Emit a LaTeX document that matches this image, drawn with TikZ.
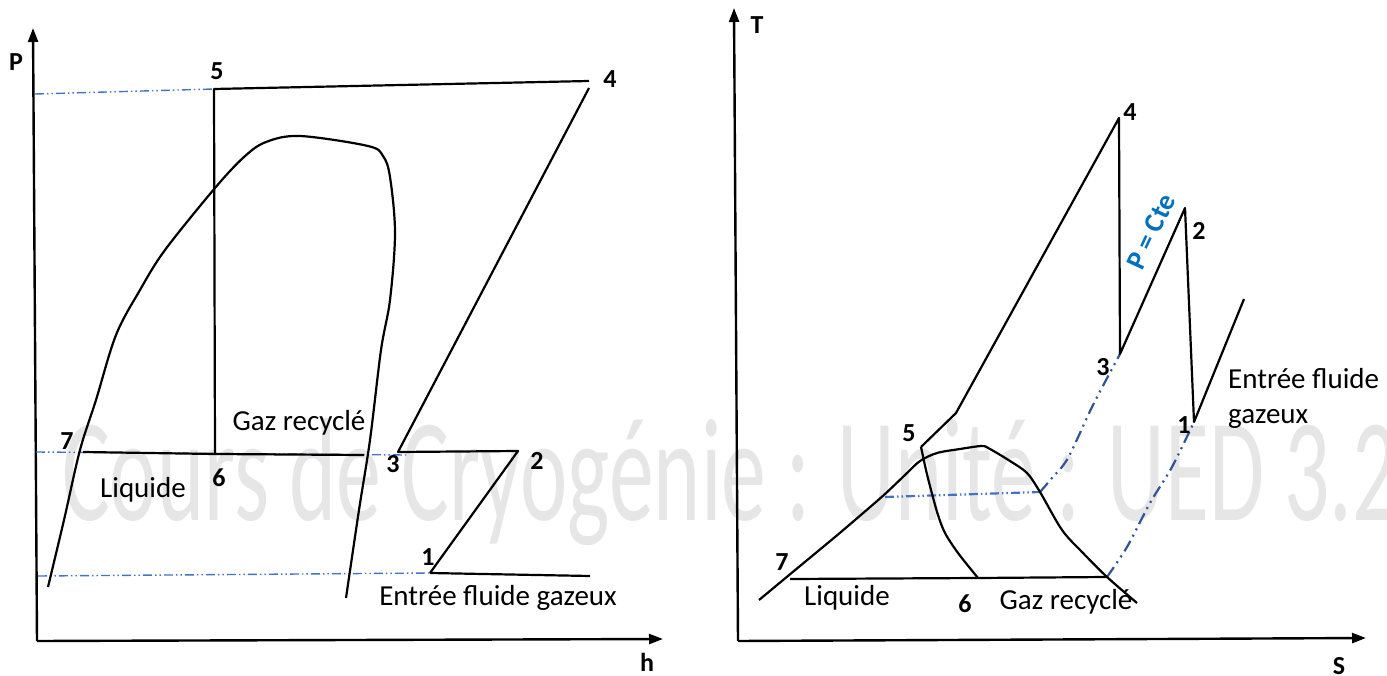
\documentclass[tikz,border=0pt]{standalone}
\usepackage{graphicx}
\usepackage{fontspec}
\setmainfont{Carlito}
\usetikzlibrary{arrows.meta}
\definecolor{isoblue}{RGB}{68,114,196}
\definecolor{curveblue}{RGB}{47,85,151}
\definecolor{cteblue}{RGB}{0,112,192}
\definecolor{wmgray}{RGB}{230,230,230}

\begin{document}
\begin{tikzpicture}[
    x=1pt, y=-1pt,
    >={Triangle[length=14pt,width=10pt]},
    font=\fontsize{29}{35}\selectfont,
    axis/.style = {->, line width=2.4pt, black},
    cyc/.style  = {line width=2.2pt, black, line join=round},
    iso/.style  = {line width=1.4pt, isoblue,
                   dash pattern=on 9pt off 3pt on 1.5pt off 3pt on 1.5pt off 3pt},
    isoc/.style = {line width=2.2pt, curveblue,
                   dash pattern=on 12pt off 5pt on 2pt off 5pt on 2pt off 5pt},
    num/.style  = {font=\fontsize{26}{30}\selectfont\bfseries, inner sep=0pt},
    txt/.style  = {inner sep=0pt, align=left},
    wm/.style   = {font=\fontsize{147}{150}\selectfont, text=wmgray, inner sep=0pt},
]
\useasboundingbox (0,0) rectangle (1387,676);

% ---------------- watermark ----------------
\node[wm, anchor=base west] (wmark) at (62,520) {\scalebox{0.61}[1]{Cours de Cryogénie : Unité : UED 3.2}};

% ---------------- P-h diagram ----------------
\coordinate (ph-o) at (37,641);
\coordinate (ph-ytip) at (33,28);
\coordinate (ph-xtip) at (663,639);
\draw[axis] (ph-o) -- (ph-ytip);
\draw[axis] (ph-o) -- (ph-xtip);
\node[num] (ph-P) at (16,62) {P};
\node[num] (ph-h) at (647,662) {h};

\coordinate (ph1) at (430,573);
\coordinate (ph2) at (518,451);
\coordinate (ph3) at (398,452);
\coordinate (ph4) at (589,81);
\coordinate (ph4b) at (589,88);
\coordinate (ph5) at (214,89);
\coordinate (ph6) at (215,454);
\coordinate (ph7) at (83,452);
\coordinate (ph-in) at (590,576);
\coordinate (ph-liq) at (364,455);
\coordinate (ph-hp) at (35,94);
\coordinate (ph-mp) at (36,452);
\coordinate (ph-mp3) at (406,455);
\coordinate (ph-lp) at (38,576);

% isobars
\draw[iso] (ph-hp) -- (ph5);
\draw[iso] (ph-mp) -- (ph-mp3);
\draw[iso] (ph-lp) -- (ph1);

% saturation dome
\draw[cyc] plot[smooth, tension=0.55] coordinates {
  (48,587) (64,520) (80,450) (96,400) (116,335) (140,290) (165,250)
  (215,188) (244,157) (266,142) (300,136) (368,146) (383,156)
  (390,177) (395,233) (390,300) (381,350) (370,440) (359,510) (346,598)};

% cycle
\draw[cyc] (ph1) -- (ph-in);
\draw[cyc] (ph1) -- (ph2) -- (ph3) -- (ph4b);
\draw[cyc] (ph4) -- (ph5) -- (ph6);
\draw[cyc] (ph7) -- (ph6) -- (ph-liq);

\node[num] (ph-l5) at (217,71) {5};
\node[num] (ph-l4) at (610,79) {4};
\node[num] (ph-l3) at (393,464) {3};
\node[num] (ph-l2) at (537,461) {2};
\node[num] (ph-l1) at (428,557) {1};
\node[num] (ph-l6) at (219,478) {6};
\node[num] (ph-l7) at (67,441) {7};
\node[txt] (ph-liquide) at (143,490) {Liquide};
\node[txt] (ph-gaz) at (299,423) {Gaz recyclé};
\node[txt] (ph-entree) at (498,598) {Entrée fluide gazeux};

% ---------------- T-S diagram ----------------
\coordinate (ts-o) at (738,641);
\coordinate (ts-ytip) at (734,8);
\coordinate (ts-xtip) at (1366,638);
\draw[axis] (ts-o) -- (ts-ytip);
\draw[axis] (ts-o) -- (ts-xtip);
\node[num] (ts-T) at (757,25) {T};
\node[num] (ts-S) at (1339,666) {S};

\coordinate (ts1) at (1194,422);
\coordinate (ts2) at (1185,208);
\coordinate (ts3) at (1120,354);
\coordinate (ts4) at (1119,118);
\coordinate (ts5) at (921,447);
\coordinate (ts6) at (978,578);
\coordinate (ts7) at (790,579);
\coordinate (ts-kink) at (956,413);
\coordinate (ts-in) at (1244,299);
\coordinate (ts-g) at (1107,577);
\coordinate (ts-ml) at (885,497);
\coordinate (ts-mr) at (1040,492);

% isobars
\draw[iso, line width=2.2pt] (ts-ml) -- (ts-mr);
\draw[isoc] plot[smooth] coordinates {(ts-mr) (1052,478) (1068,458) (1093,405) (ts3)};
\draw[isoc] plot[smooth] coordinates {(ts-g) (1127,547) (1150,503) (1172,467) (ts1)};

% saturation dome
\draw[cyc] plot[smooth, tension=0.5] coordinates {
  (759,600) (800,566) (835,537) (862,514) (885,494) (905,475) (920,461)
  (937,453) (960,449) (982,446) (990,449) (1010,461) (1027,473) (1040,492)
  (1062,530) (1083,553) (1107,577) (1137,603)};
\draw[cyc] plot[smooth, tension=0.5] coordinates {
  (ts5) (926,470) (931,490) (938,515) (945,533) (958,553) (ts6)};

% cycle
\draw[cyc] (ts-in) -- (ts1) -- (ts2) -- (ts3) -- (ts4) -- (ts-kink) -- (ts5);
\draw[cyc] (ts7) -- (ts6) -- (ts-g);

\node[num] (ts-l4) at (1130,112) {4};
\node[num] (ts-l3) at (1103,367) {3};
\node[num] (ts-l2) at (1199,231) {2};
\node[num] (ts-l1) at (1184,425) {1};
\node[num] (ts-l5) at (909,433) {5};
\node[num] (ts-l7) at (782,562) {7};
\node[num] (ts-l6) at (965,604) {6};
\node[num, text=cteblue, rotate=65, font=\fontsize{28}{30}\selectfont\bfseries] (ts-cte) at (1151,232) {P = Cte};
\node[txt] (ts-liquide) at (847,598) {Liquide};
\node[txt] (ts-gaz) at (1066,602) {Gaz recyclé};
\node[txt, anchor=west] (ts-entree) at (1228,398) {Entrée fluide\\gazeux};

\end{tikzpicture}
\end{document}
